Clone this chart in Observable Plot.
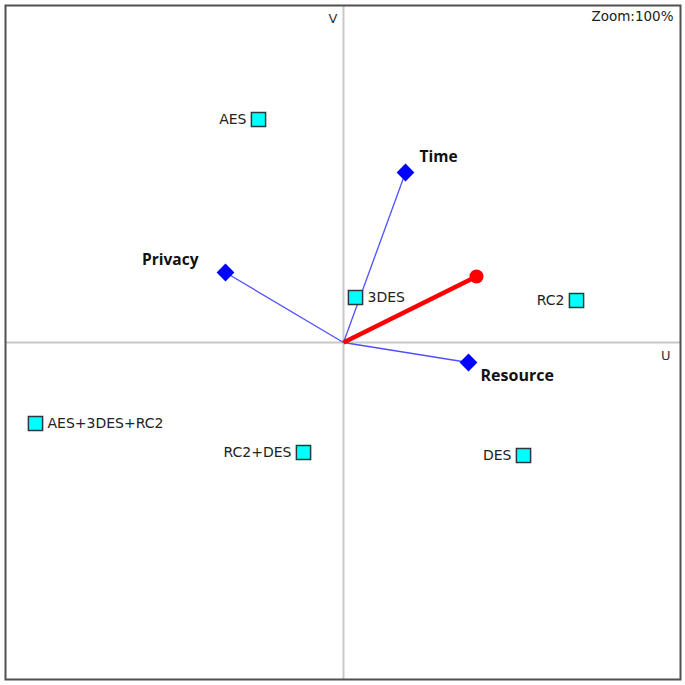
<!DOCTYPE html>
<html><head><meta charset="utf-8">
<script src="https://cdn.jsdelivr.net/npm/d3@7"></script>
<script src="https://cdn.jsdelivr.net/npm/@observablehq/plot@0.6"></script>
<style>body{margin:0;background:#fff}</style>
</head><body><div id="chart"></div>
<script>
// Alternatives (GAIA plane coordinates)
const altNames = ["AES", "3DES", "RC2", "AES+3DES+RC2", "RC2+DES", "DES"];
const altU = [-85, 12, 233, -308, -40, 180];
const altV = [223, 45, 42, -81, -110, -113];
const altLabelSide = ["left", "right", "left", "right", "left", "left"];

// Criteria axes
const critNames = ["Time", "Privacy", "Resource"];
const critU = [62, -118, 125];
const critV = [170, 70, -20];

// Decision axis (pi)
const decisionU = 133;
const decisionV = 66;

const alts = altNames.map((n, i) => ({name: n, u: altU[i], v: altV[i], side: altLabelSide[i]}));
const crits = critNames.map((n, i) => ({name: n, u: critU[i], v: critV[i]}));
const decision = [{u: decisionU, v: decisionV}];

const font = "'DejaVu Sans', Tahoma, sans-serif";
const boldFont = "'Open Sans', Calibri, sans-serif";

const chart = Plot.plot({
  width: 685, height: 685,
  marginLeft: 5, marginRight: 5, marginTop: 5, marginBottom: 6,
  x: {domain: [-338, 337], axis: null},
  y: {domain: [-337, 337], axis: null},
  style: {fontFamily: font, background: "#fff"},
  marks: [
    Plot.ruleX([0], {stroke: "#c8c8c8", strokeWidth: 2}),
    Plot.ruleY([0], {stroke: "#c8c8c8", strokeWidth: 2}),
    Plot.frame({stroke: "#505050", strokeWidth: 2}),
    Plot.text(["V"], {frameAnchor: "top", dx: -10, dy: 8, fontSize: 13, fill: "#333", fontFamily: font}),
    Plot.text(["U"], {frameAnchor: "right", dx: -10, dy: 13, fontSize: 13, fill: "#333", fontFamily: font}),
    Plot.text(["Zoom:100%"], {frameAnchor: "top-right", dx: -7, dy: 6, fontSize: 13.5, fill: "#222", fontFamily: font}),
    // criteria links
    Plot.link(crits, {x1: d => 0, y1: d => 0, x2: "u", y2: "v", stroke: "#5050ff", strokeWidth: 1.3}),
    Plot.dot(crits, {x: "u", y: "v", symbol: "diamond2", r: 8, fill: "#0000ff", stroke: "none"}),
    Plot.text(crits.filter(d => d.name === "Time"), {x: "u", y: "v", text: "name", textAnchor: "start", dx: 14, dy: -15, fontWeight: "bold", fontSize: 15.5, fill: "#111", fontFamily: boldFont}),
    Plot.text(crits.filter(d => d.name === "Privacy"), {x: "u", y: "v", text: "name", textAnchor: "end", dx: -27, dy: -12, fontWeight: "bold", fontSize: 15.5, fill: "#111", fontFamily: boldFont}),
    Plot.text(crits.filter(d => d.name === "Resource"), {x: "u", y: "v", text: "name", textAnchor: "start", dx: 12, dy: 13, fontWeight: "bold", fontSize: 16, fill: "#111", fontFamily: boldFont}),
    // decision axis
    Plot.link(decision, {x1: d => 0, y1: d => 0, x2: "u", y2: "v", stroke: "#ff0000", strokeWidth: 4.5}),
    Plot.dot(decision, {x: "u", y: "v", r: 7, fill: "#ff0000", stroke: "none"}),
    // alternatives
    Plot.dot(alts, {x: "u", y: "v", symbol: "square", r: 8, fill: "#00ffff", stroke: "#2a3a3a", strokeWidth: 1.5}),
    Plot.text(alts.filter(d => d.side === "left"), {x: "u", y: "v", text: "name", textAnchor: "end", dx: -12, fontSize: 14, fill: "#222", fontFamily: font}),
    Plot.text(alts.filter(d => d.side === "right"), {x: "u", y: "v", text: "name", textAnchor: "start", dx: 12, fontSize: 14, fill: "#222", fontFamily: font})
  ]
});
document.getElementById("chart").appendChild(chart);
</script>
</body></html>
